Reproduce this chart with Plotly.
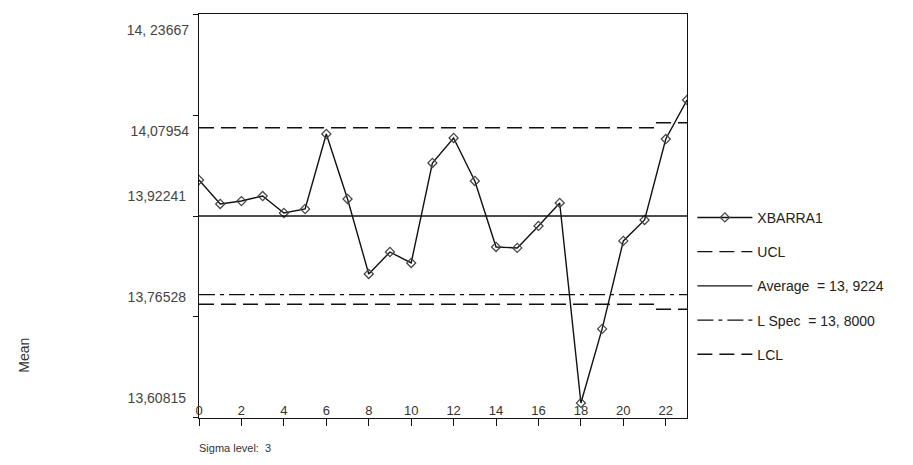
import plotly.graph_objects as go

# ---- data ----
subgroups = list(range(24))
xbar = [13.9784, 13.9411, 13.9457, 13.9535, 13.9271, 13.9333, 14.0500, 13.9489,
        13.8322, 13.8664, 13.8493, 14.0049, 14.0438, 13.9769, 13.8742, 13.8727,
        13.9069, 13.9427, 13.6315, 13.7467, 13.8836, 13.9162, 14.0422, 14.1029]
ucl = [14.0597] * 22 + [14.0675] * 2
lcl = [13.7851] * 22 + [13.7773] * 2
average = 13.9224
lspec = 13.8000
y_tickvals = [13.60815, 13.76528, 13.92241, 14.07954, 14.23667]
y_ticktext = ["13,60815", "13,76528", "13,92241", "14,07954", "14, 23667"]
x_tickvals = [0, 2, 4, 6, 8, 10, 12, 14, 16, 18, 20, 22]

FONT = "Arial, Liberation Sans, sans-serif"
Y_RANGE = [y_tickvals[0] - 0.00005, y_tickvals[-1] + 0.00005]

# labels of the lower three ticks sit above their ticks, the upper two below
low_text = [t if v < average + 0.01 else "" for v, t in zip(y_tickvals, y_ticktext)]
high_vals = [v for v in y_tickvals if v > average + 0.01]
high_text = [t for v, t in zip(y_tickvals, y_ticktext) if v > average + 0.01]

fig = go.Figure()
fig.add_trace(go.Scatter(
    x=subgroups, y=xbar, mode="lines+markers", name="XBARRA1", legendgroup="a",
    line=dict(color="#111111", width=1.4),
    marker=dict(symbol="diamond-open", size=7, color="#444444", line=dict(width=1.2)),
))
fig.add_trace(go.Scatter(
    x=subgroups, y=ucl, mode="lines", name="UCL", legendgroup="b",
    line=dict(color="#111111", width=1.3, dash="15px,7px", shape="hvh"),
))
fig.add_trace(go.Scatter(
    x=[subgroups[0], subgroups[-1]], y=[average, average], mode="lines",
    name="Average  = 13, 9224", legendgroup="c", yaxis="y2",
    line=dict(color="#111111", width=1.3),
))
fig.add_trace(go.Scatter(
    x=[subgroups[0], subgroups[-1]], y=[lspec, lspec], mode="lines",
    name="L Spec  = 13, 8000", legendgroup="d",
    line=dict(color="#111111", width=1.3, dash="16px,5px,4px,5px"),
))
fig.add_trace(go.Scatter(
    x=subgroups, y=lcl, mode="lines", name="LCL", legendgroup="e",
    line=dict(color="#111111", width=1.3, dash="15px,7px", shape="hvh"),
))

fig.update_layout(
    width=905, height=457,
    margin=dict(l=191, r=226, t=6, b=47, autoexpand=False),
    paper_bgcolor="white", plot_bgcolor="white",
    font=dict(family=FONT, size=12, color="#333333"),
    showlegend=True,
    legend=dict(
        x=1.011, xanchor="left", y=0.535, yanchor="top",
        itemwidth=55, tracegroupgap=13, bgcolor="rgba(0,0,0,0)",
        font=dict(family=FONT, size=14, color="#222222"),
    ),
    xaxis=dict(
        range=[-0.0005, 23], tickvals=x_tickvals, ticks="outside", ticklen=7,
        tickcolor="#111111", ticklabelposition="inside", ticklabeloverflow="allow",
        showline=True, linecolor="#111111", linewidth=1.4, mirror=True,
        showgrid=False, zeroline=False, automargin=False,
        tickfont=dict(family=FONT, size=13, color="#333333"),
    ),
    yaxis=dict(
        range=Y_RANGE,
        tickvals=y_tickvals, ticktext=low_text, ticks="outside", ticklen=5,
        tickwidth=1.3, tickcolor="#111111", ticklabeloverflow="allow",
        ticklabelstandoff=4, ticklabelshift=-20,
        showline=True, linecolor="#111111", linewidth=1.4, mirror=True,
        showgrid=False, zeroline=False, automargin=False,
        tickfont=dict(family=FONT, size=14, color="#444444"),
    ),
    yaxis2=dict(
        range=Y_RANGE, overlaying="y", side="left", anchor="x",
        tickvals=high_vals, ticktext=high_text, ticks="", ticklabelstandoff=9,
        ticklabelshift=16, ticklabeloverflow="allow",
        showline=False, showgrid=False, zeroline=False, automargin=False,
        tickfont=dict(family=FONT, size=14, color="#444444"),
    ),
    annotations=[
        dict(text="Mean", xref="paper", yref="paper", x=-0.359, y=0.156,
             showarrow=False, textangle=-90, xanchor="center", yanchor="middle",
             font=dict(family=FONT, size=14, color="#333333")),
        dict(text="Sigma level:  3", xref="paper", yref="paper", x=-0.004, y=-0.074,
             showarrow=False, xanchor="left", yanchor="middle",
             font=dict(family=FONT, size=11, color="#333333")),
    ],
)

fig.write_html("out.html")
